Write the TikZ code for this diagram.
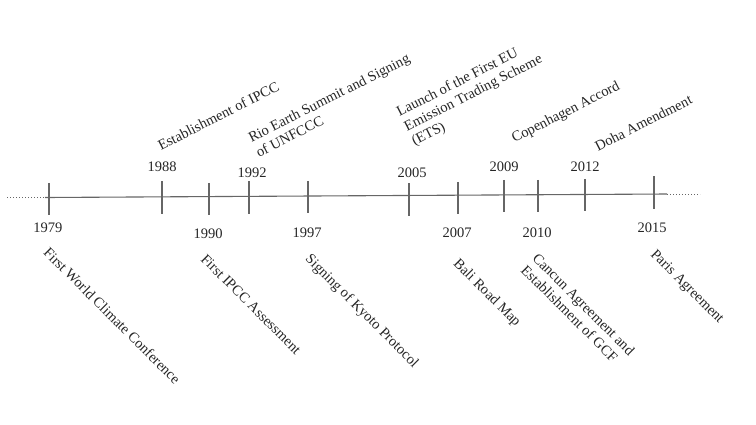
\documentclass[tikz,border=0pt]{standalone}
\usepackage{fontspec}
\setmainfont{Liberation Serif}
\usepackage{tikz}
\usetikzlibrary{positioning}

\begin{document}
\begin{tikzpicture}[x=1pt, y=-1pt,
	every node/.style={text=black!85, font=\fontsize{14.5}{16.5}\selectfont},
	axisline/.style={draw=black!60, line width=1.1pt},
	dotline/.style={draw=black!60, line width=0.9pt, dash pattern=on 1.2pt off 1.8pt},
	tick/.style={inner sep=0pt, minimum width=0pt, minimum height=32pt},
	year/.style={inner sep=0pt},
	up event/.style={anchor=south west, rotate=27, align=left, inner sep=0pt},
	down event/.style={anchor=north west, rotate=-45, align=left, inner sep=0pt}]
\useasboundingbox (0,0) rectangle (756,424);

% axis end points
\coordinate (far left) at (7,197.5);
\coordinate (axis left) at (45,197.5);
\coordinate (axis right) at (667,194);
\coordinate (far right) at (700,194);

% ticks on the axis
\node[tick] (t1979) at (49,199) {};
\node[tick] (t1988) at (162,197.5) {};
\node[tick] (t1990) at (209,199) {};
\node[tick] (t1992) at (249,197.5) {};
\node[tick] (t1997) at (308,197) {};
\node[tick] (t2005) at (409,199.5) {};
\node[tick] (t2007) at (458,198) {};
\node[tick] (t2009) at (504,196) {};
\node[tick] (t2010) at (538,196) {};
\node[tick] (t2012) at (585,195) {};
\node[tick] (t2015) at (654,192.5) {};

% years
\node[year] (y1979) at (48,228) {1979};
\node[year] (y1988) at (162,167) {1988};
\node[year] (y1990) at (208,234) {1990};
\node[year] (y1992) at (252,173) {1992};
\node[year] (y1997) at (307,233) {1997};
\node[year] (y2005) at (412,173) {2005};
\node[year] (y2007) at (457,233) {2007};
\node[year] (y2009) at (504,167) {2009};
\node[year] (y2010) at (537,233) {2010};
\node[year] (y2012) at (585,167) {2012};
\node[year] (y2015) at (652,228) {2015};

% events above the axis
\node[up event] (e1988) at (161,151) {Establishment of IPCC};
\node[up event] (e1992) at (259,158) {Rio Earth Summit and Signing\\ of UNFCCC};
\node[up event] (e2005) at (416,149) {Launch of the First EU\\ Emission Trading Scheme\\ (ETS)};
\node[up event] (e2009) at (516,146) {Copenhagen Accord};
\node[up event] (e2012) at (598,152) {Doha Amendment};

% events below the axis
\node[down event] (e1979) at (50,246) {First World Climate Conference};
\node[down event] (e1990) at (207,253) {First IPCC Assessment};
\node[down event] (e1997) at (312,252) {Signing of Kyoto Protocol};
\node[down event] (e2007) at (460,257) {Bali Road Map};
\node[down event] (e2010) at (539,252) {Cancun Agreement and\\ Establishment of GCF};
\node[down event] (e2015) at (657,248) {Paris Agreement};

\path[axisline]
(axis left) edge (axis right)
(t1979.north) edge (t1979.south)
(t1988.north) edge (t1988.south)
(t1990.north) edge (t1990.south)
(t1992.north) edge (t1992.south)
(t1997.north) edge (t1997.south)
(t2005.north) edge (t2005.south)
(t2007.north) edge (t2007.south)
(t2009.north) edge (t2009.south)
(t2010.north) edge (t2010.south)
(t2012.north) edge (t2012.south)
(t2015.north) edge (t2015.south)
;
\path[dotline]
(far left) edge (axis left)
(axis right) edge (far right)
;
\end{tikzpicture}
\end{document}
